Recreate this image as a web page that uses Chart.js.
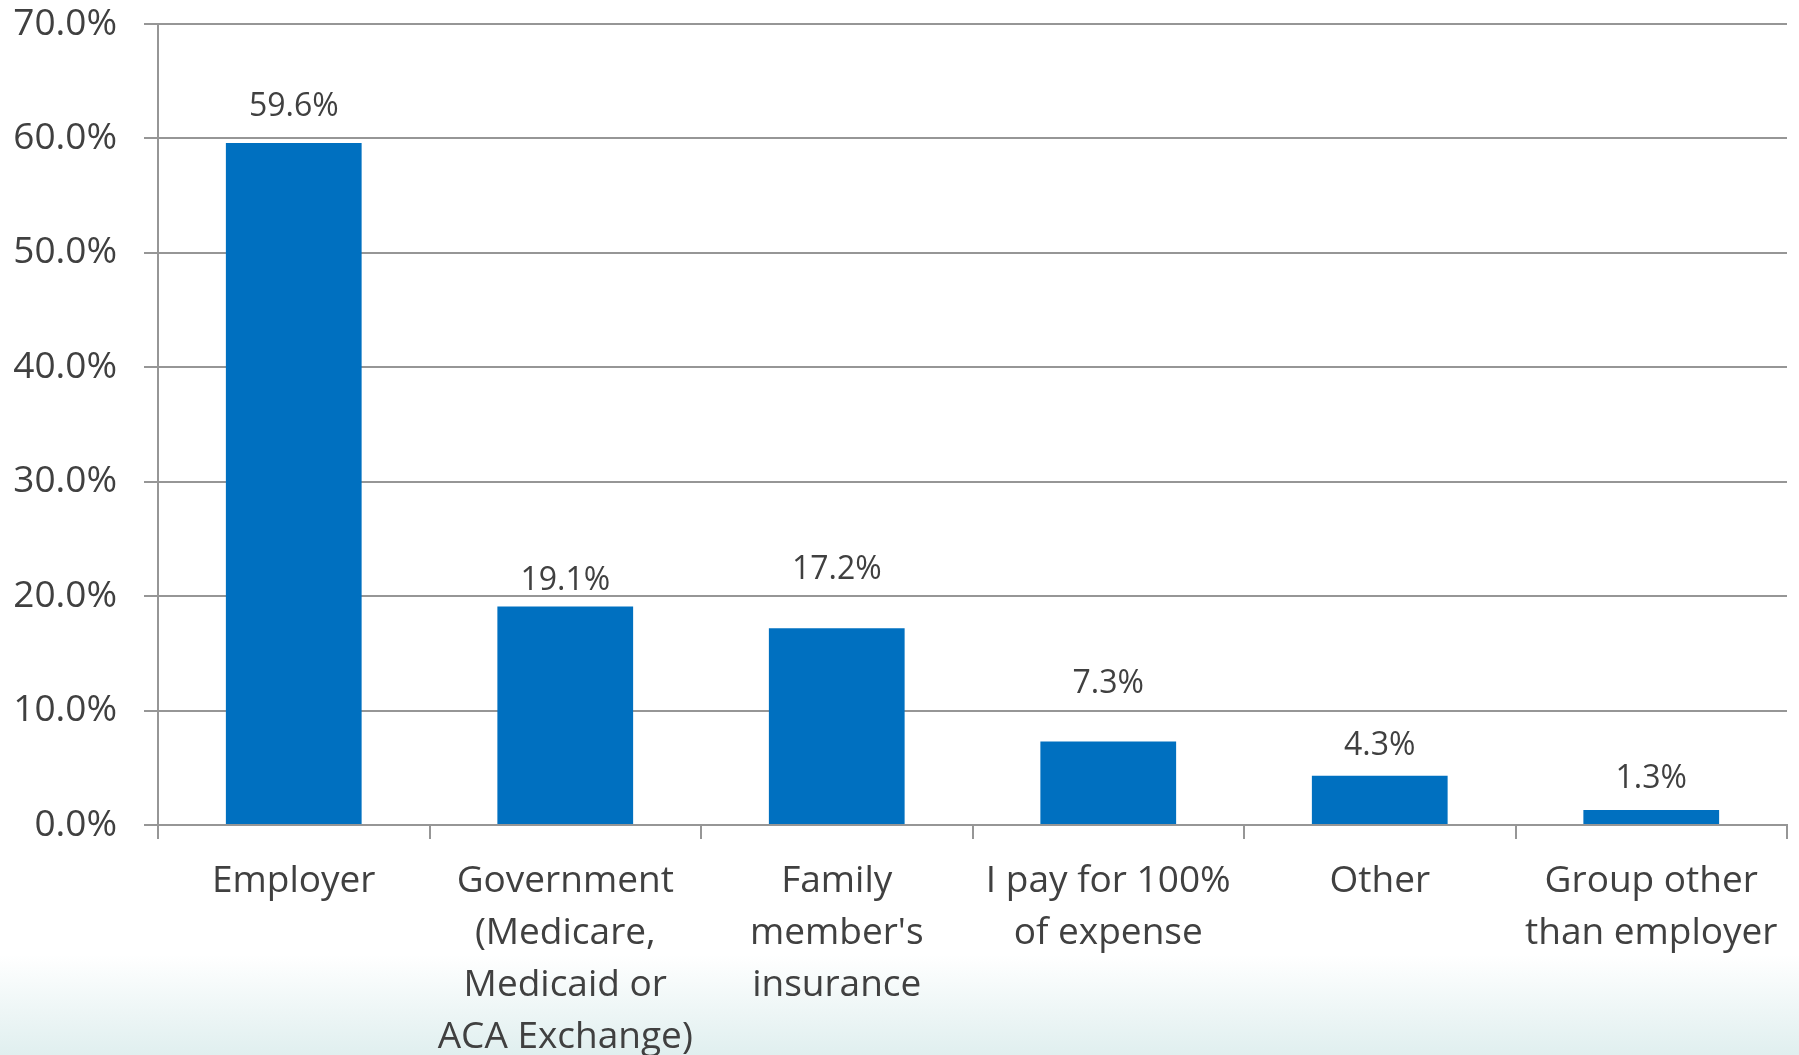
<!DOCTYPE html>
<html>
<head>
<meta charset="utf-8">
<script src="https://cdn.jsdelivr.net/npm/chart.js@4"></script>
<style>
  html, body { margin: 0; padding: 0; }
  body {
    width: 1799px;
    height: 1055px;
    background: linear-gradient(to bottom, #ffffff 0px, #ffffff 955px, #e0efef 1055px);
    overflow: hidden;
  }
  #wrap { position: relative; width: 1799px; height: 1055px; }
</style>
</head>
<body>
<div id="wrap"><canvas id="coverageChart" width="1799" height="1055"></canvas></div>
<script>
// categories, values (%) and axis ticks
var categories = [
    ['Employer'],
    ['Government', '(Medicare,', 'Medicaid or', 'ACA Exchange)'],
    ['Family', "member's", 'insurance'],
    ['I pay for 100%', 'of expense'],
    ['Other'],
    ['Group other', 'than employer']
];
var shares = [59.6, 19.1, 17.2, 7.3, 4.3, 1.3];
var yTicks = [0, 10, 20, 30, 40, 50, 60, 70];

var textColor = '#404040';
var lineColor = '#969696';
var fontFamily = "'Open Sans', 'Noto Sans', sans-serif";

// value labels over each bar; gaps are px between bar top and text baseline
var barValueLabels = {
    id: 'barValueLabels',
    afterDatasetsDraw(chart, args, opts) {
        var ctx = chart.ctx;
        var meta = chart.getDatasetMeta(0);
        ctx.save();
        ctx.font = '32px ' + fontFamily;
        ctx.fillStyle = textColor;
        ctx.textAlign = 'center';
        ctx.textBaseline = 'alphabetic';
        meta.data.forEach(function (bar, i) {
            var v = chart.data.datasets[0].data[i];
            ctx.fillText(v.toFixed(1) + '%', bar.x, bar.y - opts.gaps[i]);
        });
        ctx.restore();
    }
};

var ctx = document.getElementById('coverageChart').getContext('2d');
var coverageChart = new Chart(ctx, {
    type: 'bar',
    data: {
        labels: categories,
        datasets: [
            {
                data: shares,
                backgroundColor: '#0070c0',
                borderWidth: 0,
                barPercentage: 0.5,
                categoryPercentage: 1.0
            }
        ]
    },
    options: {
        responsive: false,
        animation: false,
        layout: {
            padding: { top: 24, right: 12, left: 0, bottom: 0 }
        },
        plugins: {
            legend: { display: false },
            tooltip: { enabled: false },
            barValueLabels: { gaps: [27, 16, 49, 48, 21, 22] }
        },
        scales: {
            x: {
                grid: {
                    offset: true,
                    drawOnChartArea: false,
                    drawTicks: true,
                    tickLength: 14,
                    color: lineColor,
                    lineWidth: 2
                },
                border: { display: true, color: lineColor, width: 2 },
                ticks: {
                    color: textColor,
                    padding: 17,
                    maxRotation: 0,
                    autoSkip: false,
                    font: { family: fontFamily, size: 37, lineHeight: 1.4 }
                },
                afterFit: function (scale) {
                    scale.height = 230;
                    scale.paddingLeft = 0;
                    scale.paddingRight = 0;
                }
            },
            y: {
                min: 0,
                max: 70,
                afterBuildTicks: function (scale) {
                    scale.ticks = yTicks.map(function (v) { return { value: v }; });
                },
                grid: {
                    drawTicks: true,
                    tickLength: 14,
                    color: lineColor,
                    lineWidth: 2
                },
                border: { display: true, color: lineColor, width: 2 },
                ticks: {
                    color: textColor,
                    padding: 27,
                    font: { family: fontFamily, size: 37 },
                    callback: function (v) { return v.toFixed(1) + '%'; }
                },
                afterFit: function (scale) {
                    scale.width = 158;
                    scale.paddingTop = 0;
                    scale.paddingBottom = 0;
                }
            }
        }
    },
    plugins: [barValueLabels]
});
</script>
</body>
</html>
